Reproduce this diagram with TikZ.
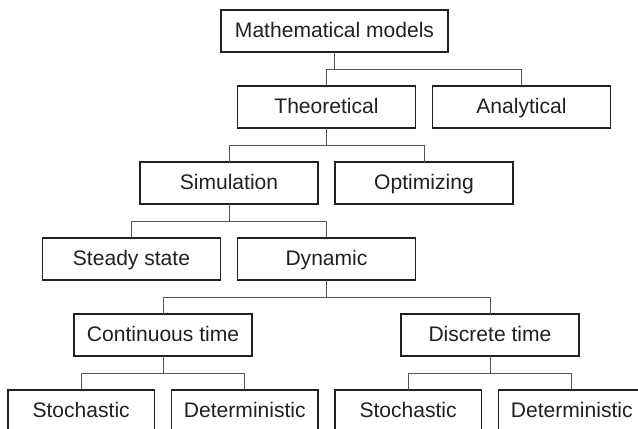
\documentclass[tikz,border=0pt]{standalone}
\usepackage{fontspec}
\setmainfont{Liberation Sans}
\usetikzlibrary{positioning}
\definecolor{boxline}{HTML}{231F20}
\definecolor{linkline}{HTML}{555555}
\tikzset{
    box/.style={rectangle, draw=boxline, line width=1.2pt, outer sep=0pt, minimum width=133.5pt, minimum height=31.5pt,
        inner sep=2pt, text height=1.85ex, text depth=.1ex, font=\fontsize{15.8}{19}\selectfont, text=boxline},
    topbox/.style={box, minimum width=170pt},
    leafbox/.style={box, minimum width=110pt},
    link/.style={draw=linkline, line width=0.7pt}
}

\begin{document}
\begin{tikzpicture}[node distance=25.5pt and 12.75pt]
    \useasboundingbox (-250.875pt,-297.75pt) rectangle (227.625pt,23.25pt);
    \clip (-250.875pt,-297.75pt) rectangle (227.625pt,23.25pt);
    \node[topbox] (mm) {Mathematical models};
    \node[box, below=of mm, xshift=-6pt] (theo) {Theoretical};
    \node[box, right=of theo] (anal) {Analytical};
    \node[box, below=of theo, xshift=-73.125pt] (sim) {Simulation};
    \node[box, right=of sim] (opt) {Optimizing};
    \node[box, below=of sim, xshift=-73.125pt] (steady) {Steady state};
    \node[box, right=of steady] (dyn) {Dynamic};
    \node[box, below=of dyn, xshift=-122.6pt] (cont) {Continuous time};
    \node[box, below=of dyn, xshift=122.6pt] (disc) {Discrete time};
    \node[leafbox, below=of cont, xshift=-61.4pt] (cstoch) {Stochastic};
    \node[leafbox, right=of cstoch] (cdet) {Deterministic};
    \node[leafbox, below=of disc, xshift=-61.4pt] (dstoch) {Stochastic};
    \node[leafbox, right=of dstoch] (ddet) {Deterministic};
    % elbow connectors, half the row gap down then across
    \foreach \parent/\kids in {mm/{theo,anal}, theo/{sim,opt}, sim/{steady,dyn}, dyn/{cont,disc},
        cont/{cstoch,cdet}, disc/{dstoch,ddet}}
        \foreach \kid in \kids
            \draw[link] (\parent.south) -- ++(0,-12.75pt) -| (\kid.north);
\end{tikzpicture}
\end{document}
